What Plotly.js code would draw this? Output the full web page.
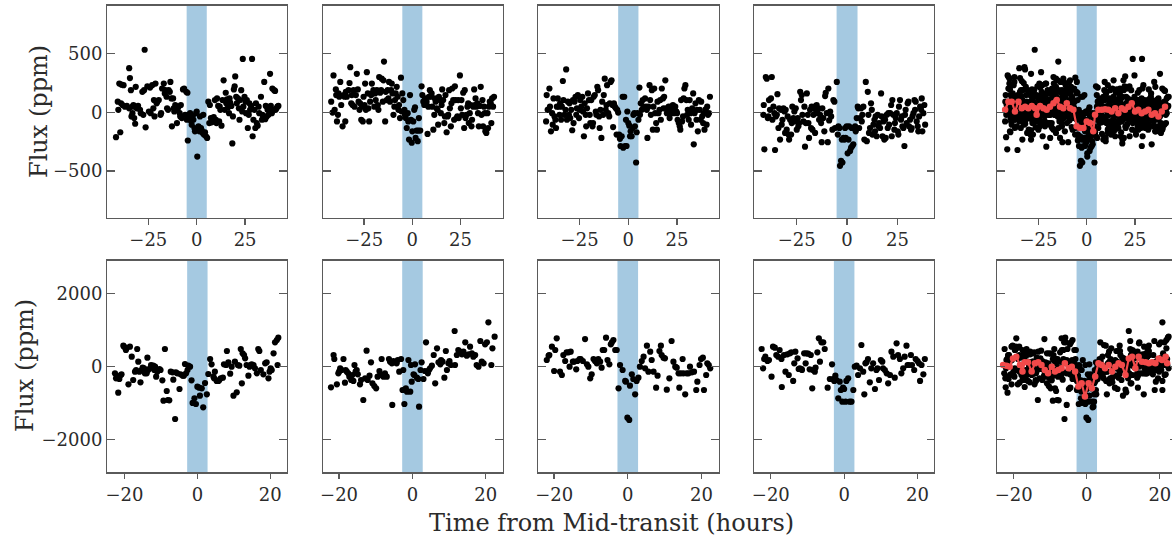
<!DOCTYPE html>
<html><head><meta charset="utf-8">
<script src="https://cdn.plot.ly/plotly-3.0.1.min.js"></script>
<style>html,body{margin:0;padding:0;overflow:hidden;background:#fff}#c{width:1180px;height:537px}</style>
</head><body><div id="c"></div>
<script>
// ---- data: [time (h), flux (ppm)] ----
const top1 = [[-41.7,-212],[-39.5,-170],[-40.8,89],[-40.5,20],[-40.0,243],[-38.8,234],[-37.8,229],[-38.3,61],[-37.1,47],[-39.1,75],[-34.9,374],[-34.5,290],[-34.0,187],[-36.1,53],[-34.9,33],[-33.2,-8],[-33.7,-36],[-32.3,-50],[-31.8,-98],[-32.7,61],[-33.2,47],[-31.5,215],[-31.0,33],[-30.3,53],[-29.3,20],[-28.9,-8],[-28.1,173],[-27.6,-22],[-27.2,187],[-26.4,-128],[-26.9,530],[-25.5,220],[-24.7,6],[-24.1,209],[-23.8,-8],[-23.0,229],[-22.4,33],[-22.1,103],[-21.8,-36],[-21.3,243],[-20.7,75],[-20.4,89],[-19.6,103],[-18.7,-22],[-18.4,-8],[-17.9,201],[-17.0,243],[-16.5,159],[-16.2,187],[-15.6,131],[-15.3,33],[-14.8,20],[-14.5,187],[-13.9,173],[-13.6,257],[-13.1,117],[-12.8,-120],[-12.2,117],[-11.9,33],[-11.6,6],[-11.1,61],[-10.5,47],[-10.2,-92],[-9.9,20],[-9.4,47],[-8.8,-8],[-8.5,-36],[-8.2,61],[-7.7,-50],[-7.1,193],[-6.5,201],[-6.0,-22],[-5.4,173],[-5.1,-64],[-4.8,165],[-4.3,-22],[-4.6,-240],[-3.7,-50],[-3.4,-8],[-3.1,-70],[-2.6,-106],[-2.0,-31],[-1.7,-64],[-1.2,-134],[-0.9,-162],[-0.3,-8],[0.0,6],[0.3,-377],[0.9,-120],[1.4,-162],[1.7,-36],[2.2,-134],[2.6,-153],[3.1,-176],[3.4,-22],[3.7,-190],[4.3,-170],[4.8,-204],[5.4,-218],[6.0,89],[6.5,-92],[6.8,61],[7.3,-50],[7.7,-86],[8.5,-78],[8.8,-42],[9.4,103],[9.9,-64],[10.2,-92],[10.5,117],[11.1,53],[11.6,-78],[11.9,47],[12.2,20],[12.8,-114],[13.3,103],[13.9,271],[14.5,20],[15.0,165],[15.3,75],[15.6,109],[16.2,42],[16.7,-8],[17.0,117],[17.3,81],[17.9,53],[18.4,-265],[18.7,-36],[19.2,193],[19.6,220],[19.9,304],[20.4,131],[20.7,75],[21.3,117],[21.8,33],[22.1,-64],[22.4,103],[23.0,187],[23.5,6],[23.8,452],[24.1,47],[24.7,131],[25.2,89],[25.5,-8],[25.9,103],[26.4,-134],[26.9,-22],[27.2,75],[27.6,20],[28.1,53],[28.6,452],[28.9,-204],[29.3,-64],[29.8,20],[30.3,-134],[30.6,75],[31.0,-92],[31.5,-114],[32.0,47],[32.3,-8],[33.2,131],[33.7,-64],[34.0,-22],[34.4,-50],[34.9,257],[35.4,-59],[35.7,53],[36.2,-36],[36.6,20],[37.1,-22],[37.4,33],[37.9,326],[38.3,53],[38.8,-8],[39.1,201],[39.5,20],[40.0,187],[40.5,181],[40.8,20],[41.2,33],[41.7,47],[42.2,53]];
const top2 = [[-42.1,89],[-41.4,-3],[-40.9,312],[-40.3,20],[-39.7,193],[-39.5,145],[-39.1,-78],[-38.6,-22],[-38.3,159],[-37.9,131],[-37.4,257],[-36.9,61],[-36.2,-120],[-35.7,145],[-35.2,131],[-34.8,-78],[-34.5,173],[-34.0,131],[-33.1,187],[-32.6,248],[-32.2,382],[-31.7,75],[-31.4,145],[-31.0,61],[-30.5,187],[-30.0,47],[-29.3,145],[-28.8,326],[-28.3,193],[-27.9,89],[-27.4,20],[-27.1,75],[-26.5,-64],[-26.2,47],[-25.7,-78],[-25.3,131],[-24.8,61],[-24.5,243],[-24.1,20],[-23.6,340],[-23.1,159],[-22.8,33],[-22.4,-78],[-21.9,89],[-21.4,145],[-21.0,243],[-20.7,159],[-20.2,187],[-19.7,47],[-19.3,159],[-19.0,103],[-18.4,187],[-17.9,61],[-17.6,20],[-17.2,299],[-16.7,165],[-16.2,187],[-15.9,285],[-15.3,89],[-15.0,271],[-14.7,430],[-14.1,-78],[-13.8,173],[-13.3,103],[-12.8,187],[-12.4,117],[-12.1,257],[-11.6,89],[-11.0,187],[-10.7,243],[-10.3,159],[-9.8,-22],[-9.3,47],[-9.0,103],[-8.6,159],[-8.1,215],[-7.6,131],[-7.2,20],[-6.9,61],[-6.4,-50],[-5.9,293],[-5.5,6],[-5.2,159],[-4.7,103],[-4.1,20],[-3.8,-22],[-3.4,-50],[-2.9,-134],[-2.4,-8],[-2.1,-78],[-1.7,-232],[-1.2,145],[-0.7,-64],[-0.3,-259],[0.0,-162],[0.5,-78],[1.0,20],[1.4,42],[1.7,-218],[2.2,-156],[2.8,-246],[3.1,-156],[3.4,-50],[4.1,-156],[4.8,220],[5.2,145],[5.7,89],[6.2,61],[6.6,117],[7.1,75],[7.4,89],[7.9,-184],[8.3,47],[8.6,131],[9.1,187],[9.7,131],[10.0,159],[10.3,47],[10.9,-148],[11.4,-22],[11.7,117],[12.1,89],[12.6,33],[13.1,20],[13.4,-106],[13.8,131],[14.3,103],[14.8,-8],[15.2,61],[15.5,193],[16.0,103],[16.6,-92],[16.9,-36],[17.2,145],[17.8,-170],[18.3,-36],[18.6,-22],[19.1,187],[19.5,33],[20.0,-120],[20.3,75],[20.7,201],[21.2,103],[21.7,-64],[22.1,220],[22.4,103],[22.9,-50],[23.4,-36],[23.8,103],[24.1,-50],[24.7,312],[25.2,33],[25.5,103],[25.9,-22],[26.4,165],[26.9,-134],[27.2,187],[27.6,-50],[28.1,-22],[28.6,47],[29.0,75],[29.3,-92],[29.8,-8],[30.3,61],[30.7,-120],[31.0,-64],[31.6,47],[32.1,193],[32.4,61],[32.8,117],[33.3,47],[33.8,75],[34.1,-8],[34.5,-120],[35.0,53],[35.5,215],[35.9,-22],[36.4,103],[36.7,-120],[37.2,47],[37.6,-8],[37.9,-162],[38.4,-176],[39.0,-8],[39.3,-134],[39.7,47],[40.2,89],[40.7,75],[41.0,-92],[41.4,117],[41.9,47],[42.4,131]];
const top3 = [[-42.2,-78],[-41.9,145],[-41.4,20],[-40.9,25],[-40.5,201],[-40.2,47],[-39.7,-162],[-39.1,-8],[-38.8,-106],[-38.4,117],[-37.9,-36],[-37.4,-64],[-37.1,-134],[-36.7,47],[-36.2,117],[-35.7,47],[-35.3,-22],[-35.0,75],[-34.5,-64],[-34.1,47],[-33.6,265],[-33.3,103],[-32.8,-22],[-32.2,20],[-31.9,363],[-31.5,-64],[-31.0,89],[-30.5,-22],[-30.2,75],[-29.8,-50],[-29.3,20],[-28.8,-153],[-28.4,103],[-28.1,-92],[-27.6,89],[-27.1,131],[-26.7,-22],[-26.4,33],[-25.9,145],[-25.3,-50],[-25.0,20],[-24.7,103],[-24.1,47],[-23.6,131],[-23.3,6],[-22.8,-204],[-22.4,75],[-21.9,-22],[-21.6,-120],[-21.2,33],[-20.7,159],[-20.2,103],[-19.8,-22],[-19.5,-92],[-19.0,103],[-18.4,-120],[-18.1,-92],[-17.8,131],[-17.2,145],[-16.7,6],[-16.4,-22],[-15.9,215],[-15.5,187],[-15.0,-36],[-14.7,-134],[-14.3,20],[-13.8,-218],[-13.4,89],[-12.9,-22],[-12.6,145],[-12.1,285],[-11.6,20],[-11.2,61],[-10.9,229],[-10.3,-8],[-9.8,-36],[-9.5,75],[-9.1,257],[-8.6,271],[-8.1,61],[-7.8,-126],[-7.4,75],[-6.9,47],[-6.4,33],[-6.0,-190],[-5.7,20],[-5.2,-3],[-4.7,-190],[-4.3,-226],[-4.0,-287],[-3.4,-204],[-2.9,131],[-2.6,-301],[-2.1,131],[-1.7,-287],[-1.2,-64],[-0.9,-287],[-0.5,6],[0.0,-92],[0.5,-114],[0.9,-204],[1.2,-162],[1.7,-204],[2.2,-134],[2.6,-22],[3.1,-8],[3.4,-120],[4.0,-427],[4.3,-170],[4.7,-8],[5.2,-64],[5.7,209],[6.0,-22],[6.4,75],[6.9,20],[7.4,103],[7.8,47],[8.1,33],[8.6,117],[9.1,47],[9.5,20],[9.8,-218],[10.3,47],[10.9,229],[11.2,103],[11.6,-22],[12.1,187],[12.6,-148],[12.9,47],[13.3,201],[13.8,-8],[14.3,-92],[14.7,-148],[15.0,89],[15.5,-8],[16.0,20],[16.4,103],[16.7,-64],[17.2,201],[17.8,117],[18.1,33],[18.4,131],[19.0,271],[19.5,33],[19.8,-8],[20.2,20],[20.7,47],[21.2,-50],[21.6,-8],[21.9,47],[22.4,20],[22.9,61],[23.3,-8],[23.6,33],[24.1,47],[24.7,6],[25.0,-8],[25.3,-64],[25.9,-92],[26.4,-120],[26.7,-148],[27.1,103],[27.6,-78],[28.1,-36],[28.4,117],[28.8,201],[29.3,229],[29.8,103],[30.2,-22],[30.5,20],[31.0,-64],[31.5,103],[31.9,-8],[32.2,-106],[32.8,33],[33.3,159],[33.6,-273],[34.0,-8],[34.5,75],[35.0,-64],[35.3,20],[35.7,-162],[36.2,103],[36.7,20],[37.1,-64],[37.4,89],[37.9,-36],[38.4,-92],[38.8,-8],[39.1,-148],[39.7,25],[40.2,-106],[40.5,47],[40.9,-22],[41.4,-8],[41.9,131]];
const top4 = [[-41.6,-22],[-41.4,61],[-41.1,-315],[-40.4,299],[-39.9,285],[-39.4,-50],[-39.1,-36],[-38.8,103],[-38.3,20],[-37.8,117],[-37.4,299],[-37.1,-64],[-36.6,47],[-36.1,-8],[-35.8,-321],[-35.4,-36],[-34.9,-22],[-34.6,153],[-34.1,-134],[-33.8,33],[-33.3,-232],[-32.8,20],[-32.5,-106],[-32.1,-64],[-31.6,33],[-31.1,6],[-30.8,-176],[-30.5,20],[-30.0,-148],[-29.5,-36],[-29.1,-190],[-28.8,-232],[-28.3,-64],[-27.8,-190],[-27.5,-92],[-27.2,47],[-26.7,-50],[-26.2,6],[-25.8,-78],[-25.5,33],[-25.0,-148],[-24.5,-50],[-24.2,-120],[-23.8,-92],[-23.3,173],[-22.9,103],[-22.5,145],[-22.2,-22],[-21.7,-78],[-21.2,47],[-20.9,-293],[-20.5,-92],[-20.0,159],[-19.5,-22],[-19.2,-92],[-18.9,-218],[-18.4,20],[-17.9,-134],[-17.6,47],[-17.2,-148],[-16.7,-22],[-16.2,47],[-15.9,-176],[-15.6,20],[-15.1,61],[-14.6,-8],[-14.2,33],[-13.9,-64],[-13.4,-22],[-12.9,-92],[-12.6,-254],[-12.3,33],[-11.8,-50],[-11.3,-162],[-10.9,137],[-10.6,165],[-10.1,-8],[-9.6,-254],[-9.3,201],[-8.9,-70],[-8.4,6],[-7.9,-36],[-7.3,-148],[-6.8,103],[-6.3,89],[-6.0,-134],[-5.1,257],[-4.6,-190],[-4.3,-120],[-3.8,-134],[-3.5,-455],[-3.0,-413],[-2.6,-232],[-2.3,-427],[-1.8,-218],[-1.3,-232],[-1.0,-134],[-0.7,-218],[-0.2,-120],[0.3,-349],[0.7,-232],[1.0,-120],[1.5,-329],[2.0,-301],[2.3,-134],[2.6,-287],[3.1,-273],[3.6,-134],[4.0,-120],[4.3,-162],[4.8,-50],[5.3,47],[5.6,33],[6.0,-134],[6.5,-50],[7.0,33],[7.3,-78],[7.6,-22],[8.1,47],[8.6,-232],[9.3,257],[9.8,-246],[10.3,173],[10.6,-22],[10.9,-176],[11.4,-134],[11.9,75],[12.3,20],[12.6,-190],[13.1,-106],[13.6,-64],[13.9,-162],[14.2,-36],[14.7,-204],[15.2,-22],[15.6,-120],[15.9,-92],[16.4,-134],[16.9,159],[17.2,-36],[17.6,-204],[18.1,-78],[18.5,-232],[18.9,-64],[19.2,-218],[19.7,-22],[20.2,-134],[20.5,-8],[20.9,-106],[21.4,-8],[21.9,61],[22.2,-204],[22.5,103],[23.0,-22],[23.5,-148],[23.8,-92],[24.2,-50],[24.7,-8],[25.2,-162],[25.5,-190],[25.8,47],[26.3,103],[26.8,-64],[27.2,-36],[27.5,-120],[28.0,-134],[28.5,-287],[28.8,-22],[29.1,20],[29.6,-92],[30.1,75],[30.5,89],[30.8,-120],[31.3,-64],[31.8,-148],[32.1,-134],[32.5,-36],[33.0,-8],[33.5,103],[33.8,20],[34.1,89],[34.6,-78],[35.1,-120],[35.4,-162],[35.8,-36],[36.3,47],[36.8,20],[37.1,117],[37.4,-162],[37.9,-8],[38.4,61],[38.8,-106]];
const bot1 = [[-22.6,-183],[-22.3,-320],[-22.0,-275],[-21.7,-714],[-21.4,-339],[-21.0,-229],[-20.8,-210],[-20.3,576],[-20.1,549],[-19.6,458],[-19.4,503],[-18.9,-485],[-18.5,549],[-18.0,275],[-17.6,-366],[-17.1,-137],[-16.8,-92],[-16.5,485],[-16.2,137],[-15.9,-137],[-15.6,-430],[-15.3,-92],[-15.0,-27],[-14.6,-46],[-14.4,-183],[-13.9,-183],[-13.7,247],[-13.5,-92],[-13.0,-46],[-12.7,46],[-12.4,0],[-12.1,27],[-11.8,-92],[-11.6,0],[-11.3,-275],[-11.0,-137],[-10.4,-64],[-10.1,-92],[-9.6,-375],[-9.3,-933],[-8.9,485],[-8.4,-668],[-8.1,-915],[-7.7,-924],[-7.3,-137],[-6.8,-156],[-6.6,-357],[-6.1,-1437],[-5.9,-156],[-5.5,-183],[-4.9,-613],[-4.6,-210],[-4.0,-247],[-3.7,-247],[-3.4,73],[-3.1,-183],[-2.7,-92],[-2.5,27],[-2.0,0],[-1.6,-375],[-1.3,-997],[-0.8,-869],[-0.4,-1025],[0.0,-549],[0.5,-576],[0.7,-796],[1.2,-595],[1.6,-1116],[2.1,-448],[2.6,-759],[3.0,-201],[3.5,210],[3.9,64],[4.4,-275],[4.6,-320],[4.8,-137],[5.3,-393],[5.8,-393],[6.0,-366],[6.4,-320],[7.0,-302],[7.3,64],[7.9,46],[8.1,430],[8.5,119],[9.0,-192],[9.4,0],[9.9,-796],[10.3,137],[10.8,-705],[11.1,46],[11.5,27],[11.9,485],[12.2,-458],[12.4,366],[12.8,320],[13.1,229],[13.5,46],[14.0,-247],[14.3,0],[14.6,46],[14.9,64],[15.4,46],[15.8,-46],[16.3,-183],[16.7,485],[17.0,430],[17.4,-92],[18.1,-210],[18.6,92],[19.0,119],[19.5,-320],[19.8,-137],[20.1,-46],[20.4,-92],[20.9,366],[21.3,668],[21.8,732],[22.0,46],[22.2,796]];
const bot2 = [[-22.2,-567],[-21.5,320],[-21.3,210],[-20.6,-485],[-20.2,-183],[-20.0,-137],[-19.7,-46],[-19.3,-92],[-18.8,210],[-18.4,-439],[-18.2,-92],[-17.9,-137],[-17.5,-183],[-17.2,-275],[-16.7,-366],[-16.4,-229],[-16.1,-393],[-15.8,46],[-15.5,-137],[-15.2,-92],[-14.9,-210],[-14.3,-485],[-14.0,-366],[-13.4,-915],[-12.9,-320],[-12.5,439],[-12.2,-366],[-11.7,-247],[-11.3,119],[-10.9,-458],[-10.4,-531],[-9.9,-595],[-9.5,-275],[-9.0,-119],[-8.8,-229],[-8.4,210],[-7.9,-275],[-7.5,-183],[-7.0,-275],[-6.4,210],[-6.1,137],[-5.6,92],[-5.5,-1052],[-5.2,156],[-4.7,119],[-4.3,92],[-4.0,183],[-3.6,-137],[-3.1,210],[-2.7,-641],[-2.5,-92],[-2.2,-1025],[-1.8,-595],[-1.5,-686],[-1.1,183],[-0.6,-686],[-0.4,46],[-0.2,-412],[0.3,-210],[0.5,-229],[0.7,64],[1.2,-302],[1.6,-339],[1.8,-1098],[2.2,-92],[2.5,119],[3.0,-339],[3.4,-119],[3.7,668],[4.2,-183],[4.5,-92],[4.8,-46],[5.3,27],[5.8,320],[6.2,-458],[6.7,503],[7.1,119],[7.6,64],[7.8,183],[8.2,137],[8.7,-302],[9.1,430],[9.4,-92],[9.8,92],[10.1,156],[10.5,46],[11.5,979],[11.6,46],[12.1,320],[12.5,458],[13.0,412],[13.5,339],[13.9,412],[14.4,668],[14.8,302],[15.3,339],[15.7,549],[16.2,366],[16.6,275],[17.1,320],[17.5,46],[18.0,0],[18.5,705],[18.9,137],[19.4,92],[19.8,613],[20.3,668],[20.7,1217],[21.5,46],[21.8,503],[22.4,824]];
const bot3 = [[-22.0,183],[-21.5,302],[-21.3,320],[-20.6,549],[-20.0,-119],[-19.7,458],[-19.3,778],[-18.4,-137],[-17.9,-229],[-17.5,320],[-17.0,156],[-16.6,393],[-16.1,393],[-15.8,0],[-15.5,412],[-14.9,137],[-14.6,137],[-14.0,-73],[-13.7,156],[-13.1,210],[-12.8,210],[-12.2,156],[-11.6,759],[-11.1,64],[-10.7,0],[-10.2,-320],[-9.8,-210],[-9.3,210],[-8.9,156],[-8.4,92],[-8.0,210],[-7.5,137],[-7.1,-27],[-6.8,458],[-6.4,458],[-5.9,796],[-5.5,183],[-5.0,64],[-4.6,613],[-4.3,668],[-3.9,732],[-3.4,458],[-3.0,458],[-2.5,-595],[-2.1,46],[-1.4,-92],[-0.7,-393],[-0.5,-412],[-0.1,-1400],[0.4,-1464],[0.6,-522],[1.1,-210],[1.5,-339],[2.0,-759],[2.4,-393],[2.9,-302],[3.3,0],[3.8,156],[4.3,275],[4.7,-46],[5.2,576],[5.6,-137],[6.1,412],[6.5,183],[7.0,-137],[7.7,-576],[8.1,-247],[8.6,430],[9.0,576],[9.2,320],[9.7,247],[10.1,229],[10.6,-631],[11.3,-320],[11.9,705],[12.4,137],[12.9,0],[13.3,-27],[13.8,-183],[14.0,-576],[14.4,-183],[14.9,210],[15.1,-183],[15.6,-759],[16.0,-183],[16.5,-183],[16.9,0],[17.4,-156],[18.0,-137],[18.6,-641],[18.9,-412],[19.5,46],[19.9,210],[20.4,247],[20.7,-641],[21.3,-229],[21.6,92],[22.0,46],[22.4,-46]];
const bot4 = [[-22.5,485],[-22.1,-46],[-21.8,210],[-21.5,275],[-20.9,156],[-20.5,183],[-19.8,-275],[-19.4,549],[-18.9,522],[-18.5,320],[-18.0,275],[-17.6,458],[-17.1,210],[-17.0,-558],[-16.4,320],[-16.0,-137],[-15.5,339],[-15.1,-229],[-14.8,366],[-14.4,393],[-13.9,-393],[-13.6,92],[-13.3,412],[-12.7,229],[-12.4,-64],[-12.1,-46],[-11.6,-64],[-11.5,-92],[-10.9,366],[-10.5,92],[-10.3,366],[-9.8,357],[-9.4,-73],[-9.1,320],[-8.7,-595],[-8.5,-92],[-8.0,-137],[-7.8,-27],[-7.3,393],[-6.9,778],[-6.6,137],[-6.2,668],[-5.7,668],[-5.3,485],[-4.5,-576],[-3.9,-339],[-3.3,64],[-3.0,-339],[-2.7,-393],[-2.4,-247],[-2.1,-366],[-1.6,-869],[-1.2,-412],[-0.9,-641],[-0.5,-961],[-0.3,-576],[0.0,-613],[0.4,-961],[0.6,-393],[1.1,-320],[1.5,-961],[2.0,-961],[2.5,-641],[2.9,0],[3.4,27],[3.8,-229],[4.3,-46],[4.7,595],[5.2,-137],[5.5,-759],[5.8,92],[6.1,119],[6.5,210],[7.0,-430],[7.4,-46],[7.9,92],[8.4,-613],[8.8,-92],[9.1,-46],[9.5,-366],[10.0,183],[10.4,137],[10.6,-46],[11.1,-92],[11.6,-183],[12.0,-458],[12.5,-229],[12.9,412],[13.4,275],[13.8,-302],[14.3,641],[14.7,320],[15.2,210],[15.6,-183],[16.1,-46],[16.5,275],[17.0,576],[17.3,46],[17.6,46],[18.2,320],[18.5,46],[19.1,-92],[19.5,210],[20.0,156],[20.4,92],[20.7,-393],[21.1,46],[21.6,-210],[22.0,210]];
// binned averages (red)
const binTop = [[-42.2,20],[-40.5,89],[-38.8,89],[-37.1,6],[-35.3,89],[-33.6,33],[-31.9,47],[-30.2,33],[-28.4,53],[-26.7,33],[-25.9,-22],[-24.1,53],[-22.4,33],[-20.7,20],[-19.0,47],[-17.2,75],[-15.5,103],[-13.8,47],[-12.1,33],[-10.3,75],[-8.6,33],[-6.9,20],[-5.2,-120],[-3.4,-134],[-1.7,-134],[0.0,-78],[1.7,-92],[3.4,-162],[4.3,-22],[6.0,20],[7.8,20],[9.5,25],[11.2,20],[12.9,6],[14.7,33],[16.4,-8],[18.1,33],[19.8,20],[21.6,47],[23.3,75],[25.0,6],[26.7,20],[28.4,-8],[30.2,6],[31.9,20],[33.6,-22],[35.3,-8],[37.1,-36],[38.8,6],[40.5,47]];
const binBot = [[-22.9,45],[-22.0,27],[-21.1,0],[-20.2,227],[-19.3,273],[-18.3,45],[-17.6,-136],[-17.0,118],[-16.1,118],[-15.1,-136],[-14.2,91],[-13.3,118],[-12.4,45],[-11.5,-91],[-10.6,-182],[-9.6,0],[-8.7,-136],[-7.8,-91],[-6.9,-45],[-6.0,91],[-5.0,-45],[-4.1,0],[-3.2,-136],[-2.3,-545],[-1.4,-455],[-0.5,-818],[0.5,-455],[1.4,-591],[2.3,-273],[3.2,91],[4.1,45],[5.0,-45],[6.0,45],[6.9,-136],[7.8,0],[8.7,91],[9.6,45],[10.6,-227],[11.5,227],[12.4,273],[13.3,-45],[14.2,273],[15.1,136],[16.1,118],[17.0,91],[17.9,118],[18.8,91],[19.7,227],[20.6,182],[21.6,273],[22.0,91]];
// ticks
const topXTicks = [-25, 0, 25];
const botXTicks = [-20, 0, 20];
const topYTicks = [-500, 0, 500];
const botYTicks = [-2000, 0, 2000];
const topBand = [-5.2, 5.2];
const botBand = [-2.8, 2.8];
const xLabel = 'Time from Mid-transit (hours)';
const yLabel = 'Flux (ppm)';

// ---- layout geometry ----
const W = 1180, H = 537;
const colPx = [[107.3,286.7],[323.3,502.7],[538.3,718.7],[754.3,934],[997.3,1177]];
const rowPx = [[5.7,218],[260.7,472.3]];
const topXR = [[-46.2,46.5],[-46.2,46.9],[-46.2,46.4],[-46.1,43.2],[-46.25,46.7]];
const botXR = [[-24.7,24.5],[-24.3,24.6],[-24.3,24.7],[-24.5,24.5],[-24.5,24.7]];
const topYR = [-898, 904], botYR = [-2901, 2910];

const FONT = 'DejaVu Serif, serif';
const fmt = v => (v < 0 ? '\u2212' + Math.abs(v) : String(v));
const spine = '#5a5a5a';

const topSets = [top1, top2, top3, top4, [].concat(top1, top2, top3, top4)];
const botSets = [bot1, bot2, bot3, bot4, [].concat(bot1, bot2, bot3, bot4)];

const traces = [], shapes = [], layout = {
  width: W, height: H, margin: {l:0, r:0, t:0, b:0},
  paper_bgcolor: '#fff', plot_bgcolor: '#fff', showlegend: false,
  font: {family: FONT, color: '#2b2b2b'}
};

for (let r = 0; r < 2; r++) {
  for (let c = 0; c < 5; c++) {
    const n = r * 5 + c + 1;
    const sx = n === 1 ? '' : String(n);
    const set = r === 0 ? topSets[c] : botSets[c];
    traces.push({
      type: 'scatter', mode: 'markers', xaxis: 'x' + sx, yaxis: 'y' + sx,
      x: set.map(p => p[0]), y: set.map(p => p[1]),
      marker: {size: 6.2, color: '#000'}, hoverinfo: 'skip'
    });
    if (c === 4) {
      const b = r === 0 ? binTop : binBot;
      traces.push({
        type: 'scatter', mode: 'lines+markers', xaxis: 'x' + sx, yaxis: 'y' + sx,
        x: b.map(p => p[0]), y: b.map(p => p[1]),
        line: {color: '#f24a4a', width: 2.2}, marker: {size: 6.5, color: '#f24a4a'}, hoverinfo: 'skip'
      });
    }
    const band = r === 0 ? topBand : botBand;
    shapes.push({type: 'rect', xref: 'x' + sx, yref: 'y' + sx + ' domain', x0: band[0], x1: band[1], y0: 0, y1: 1,
      fillcolor: 'rgba(31,119,180,0.4)', line: {width: 0}, layer: 'below'});
    const xt = r === 0 ? topXTicks : botXTicks;
    const yt = r === 0 ? topYTicks : botYTicks;
    layout['xaxis' + sx] = {
      domain: [colPx[c][0] / W, colPx[c][1] / W], range: r === 0 ? topXR[c] : botXR[c],
      anchor: 'y' + sx, tickmode: 'array', tickvals: xt, ticktext: xt.map(fmt),
      ticks: 'outside', ticklen: 5.5, tickwidth: 1.3, tickcolor: spine,
      showline: true, linecolor: spine, linewidth: 1.3, mirror: true,
      showgrid: false, zeroline: false, tickfont: {family: FONT, size: 18, color: '#2b2b2b'}
    };
    layout['yaxis' + sx] = {
      domain: [1 - rowPx[r][1] / H, 1 - rowPx[r][0] / H], range: r === 0 ? topYR : botYR,
      anchor: 'x' + sx, tickmode: 'array', tickvals: yt, ticktext: yt.map(fmt),
      ticks: 'inside', ticklen: 7.5, tickwidth: 1.3, tickcolor: spine,
      showline: true, linecolor: spine, linewidth: 1.3, mirror: 'ticks',
      showticklabels: c === 0, showgrid: false, zeroline: false,
      tickfont: {family: FONT, size: 18, color: '#2b2b2b'}
    };
  }
}
layout.shapes = shapes;
layout.annotations = [
  {text: xLabel, xref: 'paper', yref: 'paper', x: 611 / W, y: 1 - 523 / H, xanchor: 'center', yanchor: 'middle',
   showarrow: false, font: {family: FONT, size: 24, color: '#2b2b2b'}},
  {text: yLabel, xref: 'paper', yref: 'paper', x: 39 / W, y: 1 - 112 / H, xanchor: 'center', yanchor: 'middle',
   textangle: -90, showarrow: false, font: {family: FONT, size: 24, color: '#2b2b2b'}},
  {text: yLabel, xref: 'paper', yref: 'paper', x: 25 / W, y: 1 - 366 / H, xanchor: 'center', yanchor: 'middle',
   textangle: -90, showarrow: false, font: {family: FONT, size: 24, color: '#2b2b2b'}}
];
Plotly.newPlot('c', traces, layout, {displayModeBar: false, staticPlot: true});
</script></body></html>
